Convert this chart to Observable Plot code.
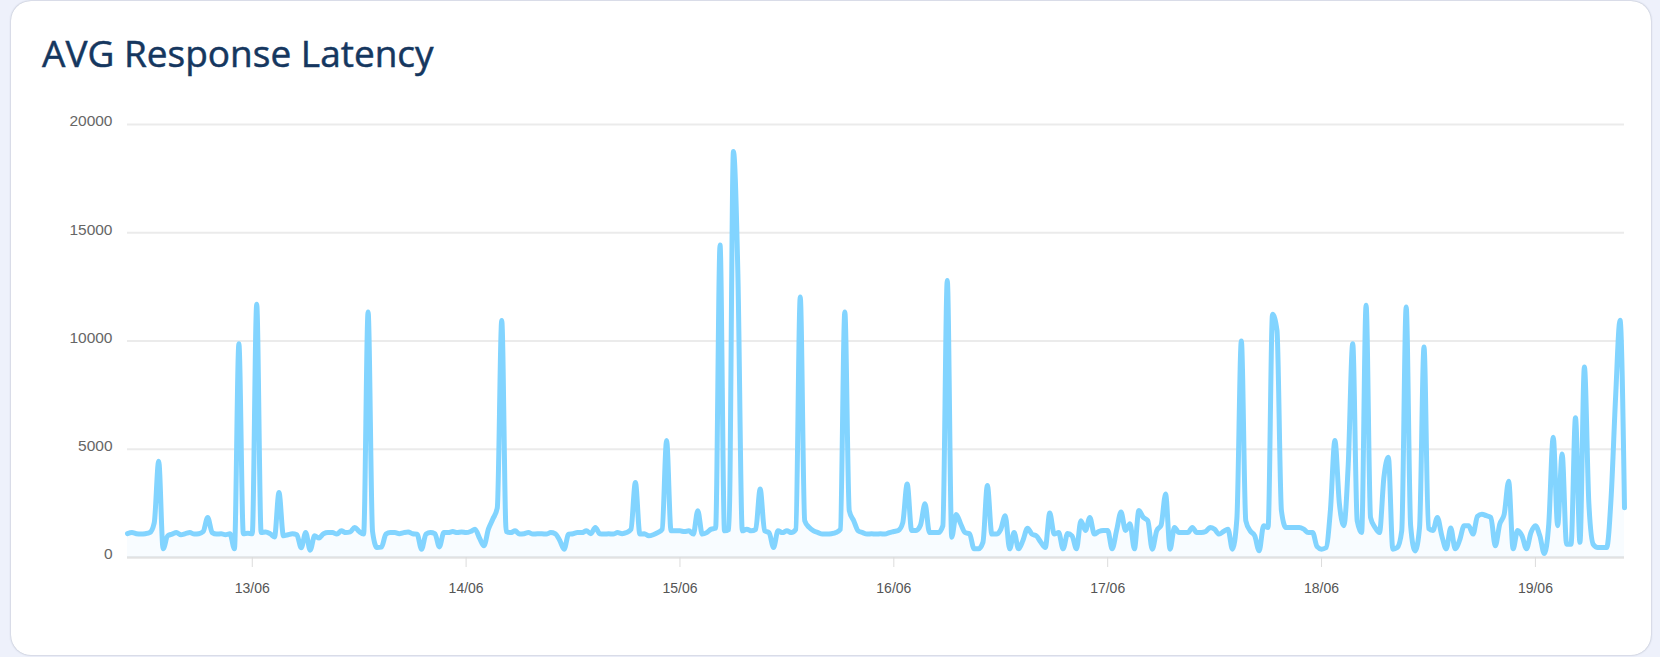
<!DOCTYPE html>
<html>
<head>
<meta charset="utf-8">
<script src="https://cdn.jsdelivr.net/npm/d3@7"></script>
<script src="https://cdn.jsdelivr.net/npm/@observablehq/plot@0.6"></script>
<style>
  html, body { margin: 0; padding: 0; width: 1660px; height: 657px; overflow: hidden; background: #eef1fb; }
  #card { position: absolute; left: 11px; top: 1px; width: 1640px; height: 654px; background: #fff;
          border-radius: 20px; box-shadow: 0 0 2px rgba(60, 70, 100, 0.45); }
  #title { position: absolute; left: 42px; top: 35px; margin: 0; font-family: "Open Sans", "Noto Sans", sans-serif;
           font-size: 37px; line-height: 36px; font-weight: 400; color: #15375f; white-space: nowrap;
           -webkit-text-stroke: 0.5px #15375f; }
  #chart { position: absolute; left: 0; top: 100px; }
</style>
</head>
<body>
<div id="card"></div>
<h1 id="title">AVG Response Latency</h1>
<div id="chart"></div>
<script>
// Half-hourly average response latency (ms), one array per day
const d12 = [1100,1150,1100,1080,1100,1150,1600,4450,400,1000,1080,1150,1050,1100,1150,1080,1100,1200,1850,1150,1080,1100,1050,1100,400,9870,1100,1120]; // from 10:00
const d13 = [1100,11700,1150,1180,1100,950,3000,1000,1050,1100,
             1050,450,1150,340,1000,900,1100,1150,1150,1080,
             1230,1150,1180,1390,1200,1080,11340,1200,460,480,
             1080,1150,1150,1100,1150,1180,1100,1080,385,1080,
             1150,1100,490,1150,1150,1200,1150,1180];
const d14 = [1150,1200,1310,900,540,1310,1775,2300,10950,1200,
             1150,1230,1080,1100,1150,1080,1100,1100,1080,1150,
             1100,800,385,1080,1100,1150,1150,1230,1100,1390,
             1100,1080,1100,1080,1150,1100,1150,1300,3470,1080,
             1100,1000,1050,1150,1300,5400,1230,1230];
const d15 = [1230,1200,1230,1080,2160,1080,1150,1310,1350,14430,
             1230,1300,18750,13100,1230,1310,1230,1300,3160,1230,
             1150,460,1230,1150,1230,1150,1300,12030,1700,1390,
             1230,1150,1080,1080,1100,1150,1300,11340,2160,1700,
             1230,1150,1080,1100,1080,1100,1080,1150];
const d16 = [1200,1250,1600,3400,1250,1250,1500,2480,1150,1150,
             1150,1460,12800,940,1990,1560,1150,1100,400,400,
             700,3325,1080,1080,1300,1930,400,1150,400,800,
             1350,1080,1000,700,460,2050,1080,1150,400,1110,
             1000,400,1700,1250,1850,1080,1200,1250];
const d17 = [1250,400,1250,2100,1250,1560,400,2170,1850,1700,
             385,1230,1500,2930,385,1390,1150,1150,1150,1390,
             1150,1150,1200,1390,1300,1080,1200,1310,385,1800,
             10000,1700,1230,1000,310,1470,1390,11230,10490,2160,
             1390,1390,1390,1390,1310,1150,1150,500];
const d18 = [385,450,2200,5400,2500,1470,4320,9875,1700,1150,
             11650,1850,1390,1150,3700,4630,385,460,1230,11570,
             1470,300,1390,9720,1340,1250,1850,1000,400,1360,
             400,800,1470,1470,1080,1900,2000,1930,1850,540,
             1540,2000,3520,400,1250,1000,400,1150];
const d19 = [1470,1000,180,1540,5555,1470,4780,617,617,6450,
             700,8795,2500,600,460,460,460,2790,7400,10955,2300]; // to 10:00

const days = [
  {day: 12, startHour: 10, values: d12},
  {day: 13, startHour: 0, values: d13},
  {day: 14, startHour: 0, values: d14},
  {day: 15, startHour: 0, values: d15},
  {day: 16, startHour: 0, values: d16},
  {day: 17, startHour: 0, values: d17},
  {day: 18, startHour: 0, values: d18},
  {day: 19, startHour: 0, values: d19}
];

const xTickLabels = ["13/06", "14/06", "15/06", "16/06", "17/06", "18/06", "19/06"];
const yTicks = [0, 5000, 10000, 15000, 20000];

const data = [];
for (const d of days) {
  d.values.forEach((v, i) => {
    data.push({date: new Date(Date.UTC(2024, 5, d.day, d.startHour) + i * 30 * 60 * 1000), value: v});
  });
}
const parseTick = d3.utcParse("%d/%m/%Y");
const xTicks = xTickLabels.map(s => parseTick(s + "/2024"));

const chart = Plot.plot({
  width: 1660,
  height: 520,
  marginLeft: 127,
  marginRight: 36,
  marginTop: 24,
  marginBottom: 63,
  style: {background: "transparent", fontFamily: "Arial, 'Liberation Sans', sans-serif", overflow: "visible"},
  x: {type: "utc", domain: d3.extent(data, d => d.date)},
  y: {domain: [0, 20000]},
  marks: [
    Plot.gridY(yTicks, {stroke: "#ebebeb", strokeOpacity: 1, strokeWidth: 2}),
    Plot.ruleY([0], {stroke: "#e2e2e2", strokeWidth: 2}),
    Plot.areaY(data, {x: "date", y: "value", curve: "monotone-x", fill: "#80d4ff", fillOpacity: 0.06}),
    Plot.lineY(data, {x: "date", y: "value", curve: "monotone-x", stroke: "#82d4ff", strokeWidth: 5,
                      strokeLinejoin: "round", strokeLinecap: "round"}),
    Plot.axisY(yTicks, {tickSize: 0, tickPadding: 15, fontSize: 15.5, fill: "#666", dy: -3, label: null,
                        tickFormat: d => String(d)}),
    Plot.axisX(xTicks, {tickSize: 10, tickPadding: 16, fontSize: 14, fill: "#555", stroke: "#dcdcdc",
                        tickFormat: d3.utcFormat("%d/%m"), label: null})
  ]
});
document.getElementById("chart").appendChild(chart);
</script>
</body>
</html>
